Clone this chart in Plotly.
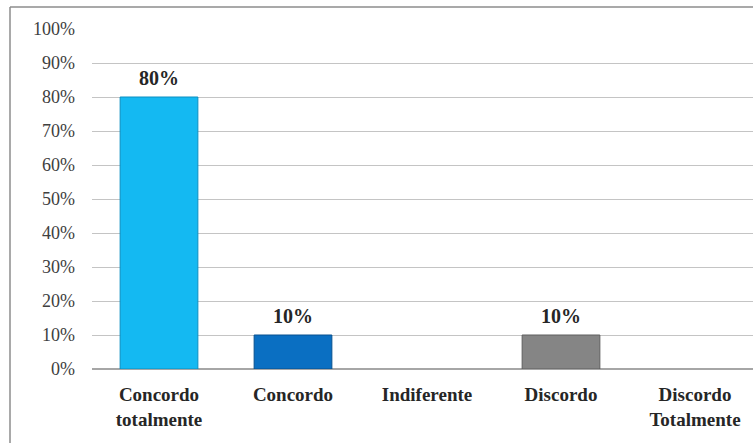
import plotly.graph_objects as go

categories = ["Concordo<br>totalmente", "Concordo", "Indiferente", "Discordo", "Discordo<br>Totalmente"]
values = [0.80, 0.10, 0.0, 0.10, 0.0]
labels = ["80%", "10%", "", "10%", ""]
bar_colors = ["#14B9F2", "#0A6FC2", "#FFFFFF", "#858585", "#FFFFFF"]
line_colors = ["#0B8FC0", "#07508F", "#FFFFFF", "#5E5E5E", "#FFFFFF"]
tick_vals = [0, 0.1, 0.2, 0.3, 0.4, 0.5, 0.6, 0.7, 0.8, 0.9, 1.0]
tick_text = ["0%", "10%", "20%", "30%", "40%", "50%", "60%", "70%", "80%", "90%", "100%"]

W, H = 753, 443
L, T, B = 92, 29, 74
pw = W - L
ph = H - T - B
SERIF = "Liberation Serif"

fig = go.Figure()
fig.add_trace(go.Bar(
    x=list(range(len(categories))), y=values,
    marker=dict(color=bar_colors,
                line=dict(color=line_colors, width=[1 if v > 0 else 0 for v in values])),
    width=0.58, hoverinfo="skip",
))

for i, (v, t) in enumerate(zip(values, labels)):
    if t:
        fig.add_annotation(x=i, y=v, text="<b>%s</b>" % t, showarrow=False,
                           yanchor="bottom", yshift=6,
                           font=dict(family=SERIF, size=20, color="#262626"))

# outer chart border (left and top)
x0 = (10 - L) / pw
y0 = (H - B - 7) / ph
fig.add_shape(type="line", xref="paper", yref="paper", x0=x0, x1=x0, y0=-0.5, y1=y0,
              line=dict(color="#8c8c8c", width=1.5))
fig.add_shape(type="line", xref="paper", yref="paper", x0=x0, x1=1.2, y0=y0, y1=y0,
              line=dict(color="#8c8c8c", width=1.5))

fig.update_layout(
    width=W, height=H,
    margin=dict(l=L, r=0, t=T, b=B, pad=0),
    paper_bgcolor="white", plot_bgcolor="white",
    showlegend=False,
    xaxis=dict(
        tickmode="array", tickvals=list(range(len(categories))),
        ticktext=["<b>%s</b>" % c for c in categories],
        range=[-0.5, 4.5 - 9 / 134],
        tickfont=dict(family=SERIF, size=19, color="#262626"),
        showgrid=False, zeroline=False, showline=False, ticks="",
        ticklabelstandoff=12,
    ),
    yaxis=dict(
        range=[0, 1.0], tickvals=tick_vals, ticktext=tick_text,
        tickfont=dict(family=SERIF, size=18, color="#404040"),
        showgrid=True, gridcolor="#c4c4c4", gridwidth=1.3,
        zeroline=True, zerolinecolor="#a6a6a6", zerolinewidth=1.5,
        showline=False, ticks="", ticklabelstandoff=16,
    ),
)

fig.write_html("out.html")
